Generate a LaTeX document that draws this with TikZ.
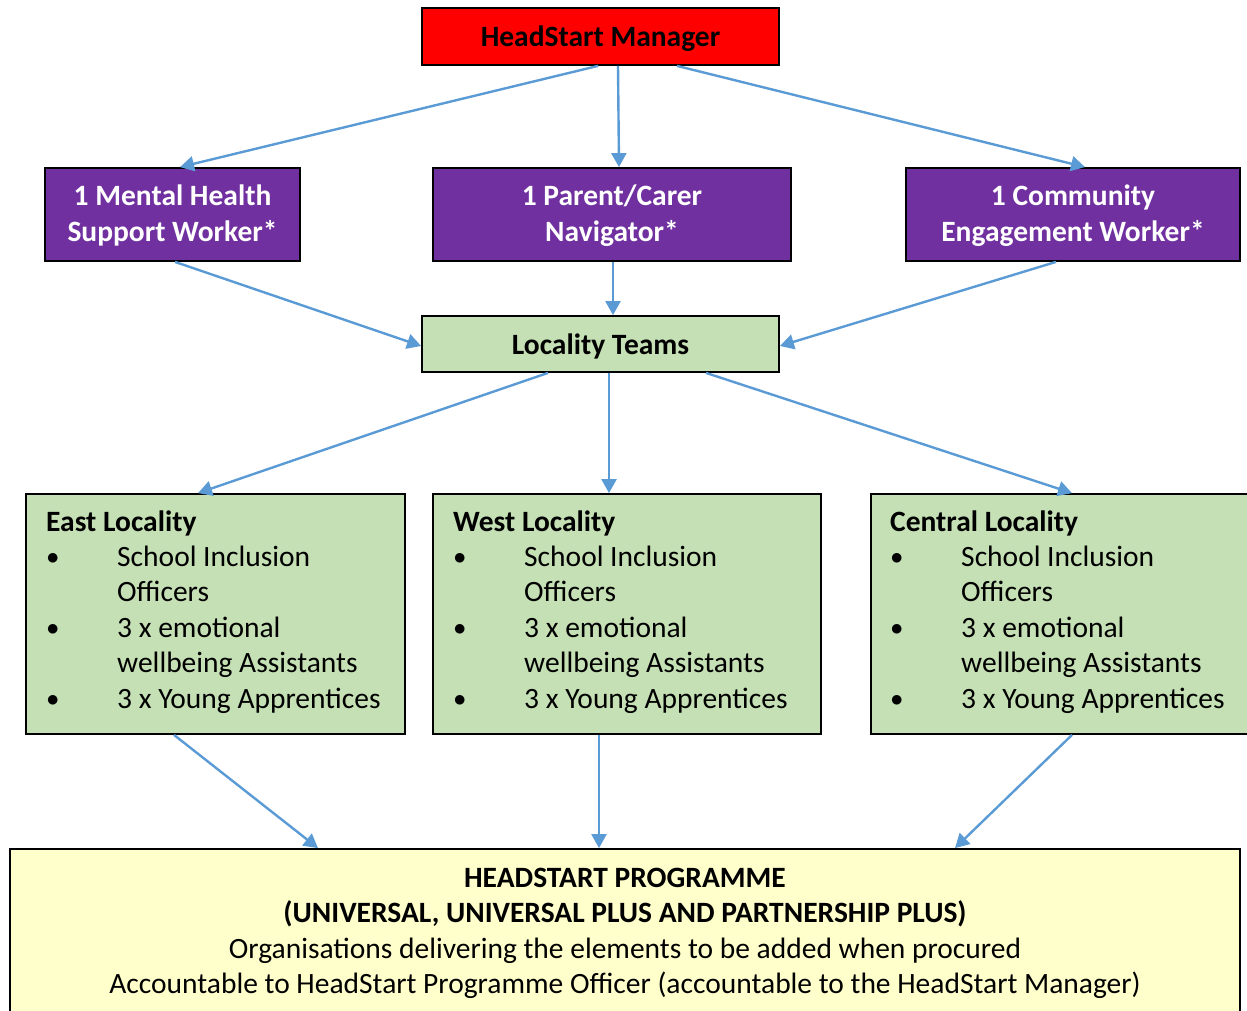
\documentclass[tikz,border=0pt]{standalone}
\usepackage{fontspec}
\setmainfont{Carlito}
\usetikzlibrary{arrows.meta}
\definecolor{hsred}{HTML}{FF0000}
\definecolor{hspurple}{HTML}{7030A0}
\definecolor{hsgreen}{HTML}{C5E0B4}
\definecolor{hsyellow}{HTML}{FFFFCC}
\definecolor{hsblue}{HTML}{5B9BD5}
\tikzset{
  box/.style={draw=black, line width=1.8pt, rectangle, inner sep=0pt, align=center,
    font=\fontsize{29.5}{35.4}\selectfont\bfseries},
  purplebox/.style={box, fill=hspurple, text=white, minimum height=93pt},
  txt/.style={inner sep=0pt, font=\fontsize{29.5}{35.4}\selectfont},
  conn/.style={draw=hsblue, line width=2.4pt, -{Triangle[length=14pt,width=15pt]}}
}
\newcommand{\lowered}[1]{\raisebox{-2pt}[\height][\depth]{#1}}
\newcommand{\twolines}[2]{\lowered{\begin{tabular}{@{}c@{}}#1\\#2\end{tabular}}}
\newcommand{\lbul}{\makebox[71pt][l]{\hspace{0.5pt}\raisebox{2pt}{$\bullet$}}}
\newcommand{\lind}{\makebox[71pt][l]{}}
\newcommand{\locality}[1]{\begin{tabular}[t]{@{}l@{}}\textbf{#1}\\
\lbul School Inclusion\\
\lind Officers\\
\lbul 3 x emotional\\
\lind wellbeing Assistants\\
\lbul 3 x Young Apprentices\end{tabular}}
\begin{document}
\begin{tikzpicture}[x=1pt,y=-1pt]
\useasboundingbox (0,0) rectangle (1247,1011);
\clip (0,0) rectangle (1247,1011);
% boxes
\node[box, fill=hsred, minimum width=357pt, minimum height=57pt] (mgr) at (600.5,36.5) {\lowered{HeadStart Manager}};
\node[purplebox, minimum width=255pt] (mh) at (172.5,214.5) {\twolines{1 Mental Health}{Support Worker*}};
\node[purplebox, minimum width=358pt] (pc) at (612,214.5) {\twolines{1 Parent/Carer}{Navigator*}};
\node[purplebox, minimum width=334pt] (ce) at (1073,214.5) {\twolines{1 Community}{Engagement Worker*}};
\node[box, fill=hsgreen, minimum width=357pt, minimum height=56pt] (lt) at (600.5,344) {\lowered{Locality Teams}};
\node[box, fill=hsgreen, minimum width=379pt, minimum height=240pt] (east) at (215.5,614) {};
\node[box, fill=hsgreen, minimum width=388pt, minimum height=240pt] (west) at (627,614) {};
\node[box, fill=hsgreen, minimum width=379pt, minimum height=240pt] (cent) at (1060.5,614) {};
\node[box, fill=hsyellow, minimum width=1230pt, minimum height=190pt] (prog) at (625,944) {};
% texts
\node[txt, anchor=base west] (eastT) at (46,531) {\locality{East Locality}};
\node[txt, anchor=base west] (westT) at (453,531) {\locality{West Locality}};
\node[txt, anchor=base west] (centT) at (890,531) {\locality{Central Locality}};
\node[txt, align=center] (progT) at (625,933.5) {\textbf{HEADSTART PROGRAMME}\\
\textbf{(UNIVERSAL, UNIVERSAL PLUS AND PARTNERSHIP PLUS)}\\
Organisations delivering the elements to be added when procured\\
Accountable to HeadStart Programme Officer (accountable to the HeadStart Manager)};
% connectors
\draw[conn] ([xshift=-2.5pt]mgr.south) -- ([xshift=7.5pt]mh.north);
\draw[conn] ([xshift=17.5pt]mgr.south) -- ([xshift=7pt]pc.north);
\draw[conn] ([xshift=76.5pt]mgr.south) -- ([xshift=12pt]ce.north);
\draw[conn] ([xshift=2.5pt]mh.south) -- ([yshift=-2pt]lt.west);
\draw[conn] ([xshift=1pt]pc.south) -- ([xshift=12.5pt]lt.north);
\draw[conn] ([xshift=-17pt]ce.south) -- ([yshift=-2pt]lt.east);
\draw[conn] ([xshift=-52.5pt]lt.south) -- ([xshift=-17.5pt]east.north);
\draw[conn] ([xshift=8.5pt]lt.south) -- ([xshift=-18pt]west.north);
\draw[conn] ([xshift=105.5pt]lt.south) -- ([xshift=11.5pt]cent.north);
\draw[conn] ([xshift=-41.5pt]east.south) -- ([xshift=-307pt]prog.north);
\draw[conn] ([xshift=-28pt]west.south) -- ([xshift=-26pt]prog.north);
\draw[conn] ([xshift=11.5pt]cent.south) -- ([xshift=330pt]prog.north);
\end{tikzpicture}
\end{document}
